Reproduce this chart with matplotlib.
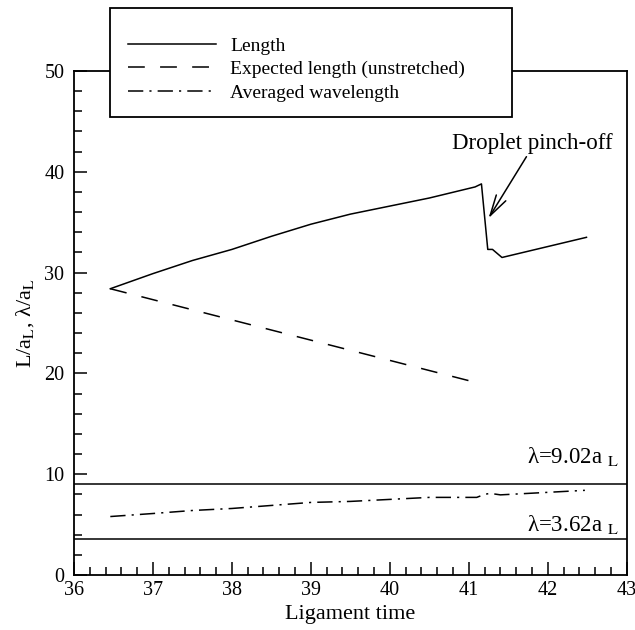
import matplotlib
matplotlib.use('Agg')
import matplotlib.pyplot as plt
from matplotlib.patches import Rectangle
import numpy as np

plt.rcParams['font.family'] = ['Liberation Serif', 'DejaVu Serif']
plt.rcParams['mathtext.fontset'] = 'stix'

# data
t_len = [36.46, 37.0, 37.5, 38.0, 38.5, 39.0, 39.5, 40.0, 40.5, 41.08, 41.16, 41.24, 41.30, 41.42, 42.49]
length = [28.4, 29.9, 31.2, 32.3, 33.6, 34.8, 35.8, 36.6, 37.4, 38.5, 38.8, 32.3, 32.3, 31.5, 33.5]

t_exp = [36.46, 41.09]
expected = [28.4, 19.1]

t_wave = [36.46, 37.0, 37.5, 38.0, 38.5, 39.0, 39.5, 40.0, 40.5, 41.1, 41.2, 41.27, 41.4, 42.0, 42.47]
wave = [5.8, 6.1, 6.4, 6.6, 6.9, 7.2, 7.3, 7.5, 7.7, 7.7, 8.0, 8.1, 7.95, 8.2, 8.4]

lam_hi = 9.02
lam_lo = 3.62

fig = plt.figure(figsize=(6.35, 6.3), dpi=100)
ax = fig.add_axes([0.1165, 0.0873, 0.8705, 0.8])

lw = 1.1
ax.plot(t_len, length, color='black', lw=lw, label='Length')
ax.plot(t_exp, expected, color='black', lw=lw, dashes=(11, 10), label='Expected length (unstretched)')
ax.plot(t_wave, wave, color='black', lw=lw, dashes=(10, 4, 1.4, 4), label='Averaged wavelength')

ax.axhline(lam_hi, color='black', lw=lw)
ax.axhline(lam_lo, color='black', lw=lw)
ax.text(42.9, lam_hi + 1.55, r'λ=9.02a $_{\mathrm{L}}$', ha='right', va='bottom', fontsize=16.5)
ax.text(42.9, lam_lo + 0.2, r'λ=3.62a $_{\mathrm{L}}$', ha='right', va='bottom', fontsize=16.5)

# pinch-off label and arrow
ax.text(41.8, 42.8, 'Droplet pinch-off', ha='center', va='center', fontsize=16.5)
ax.annotate('', xy=(41.25, 35.4), xytext=(41.73, 41.5),
            arrowprops=dict(arrowstyle='->, head_length=0.75, head_width=0.2', color='black',
                            lw=1.1, shrinkA=0, shrinkB=0, mutation_scale=20))

ax.set_xlim(36, 43)
ax.set_ylim(0, 50)
ax.set_xticks(np.arange(36, 44, 1))
ax.set_xticks(np.arange(36, 43.01, 0.2), minor=True)
ax.set_yticks(np.arange(0, 51, 10))
ax.set_yticks(np.arange(0, 51, 2), minor=True)
ax.tick_params(which='both', direction='in', top=False, right=False, width=1.1, labelsize=14.5)
ax.tick_params(axis='x', which='both', pad=4)
ax.tick_params(axis='y', which='both', pad=7)
ax.tick_params(which='major', length=9.5)
ax.tick_params(which='minor', length=5.5)
for s in ax.spines.values():
    s.set_linewidth(1.3)

ax.set_xlabel('Ligament time', fontsize=16, labelpad=4)
ax.set_ylabel(r'L/a$_{\mathrm{L}}$, λ/a$_{\mathrm{L}}$', fontsize=16, labelpad=6)

# legend box drawn by hand, partly above the axes
box = Rectangle((110 / 635, 1 - 117 / 630), 402 / 635, 109 / 630, transform=fig.transFigure,
                facecolor='white', edgecolor='black', lw=1.3, clip_on=False, zorder=4.5)
ax.add_patch(box)
leg = ax.legend(loc='upper left', bbox_to_anchor=(128 / 635, 1 - 37 / 630),
                bbox_transform=fig.transFigure, fontsize=14, frameon=False,
                handlelength=4.5, handletextpad=0.75, labelspacing=0.3,
                borderpad=0, borderaxespad=0)
leg.set_zorder(5)

fig.savefig('out.png', dpi=100)
